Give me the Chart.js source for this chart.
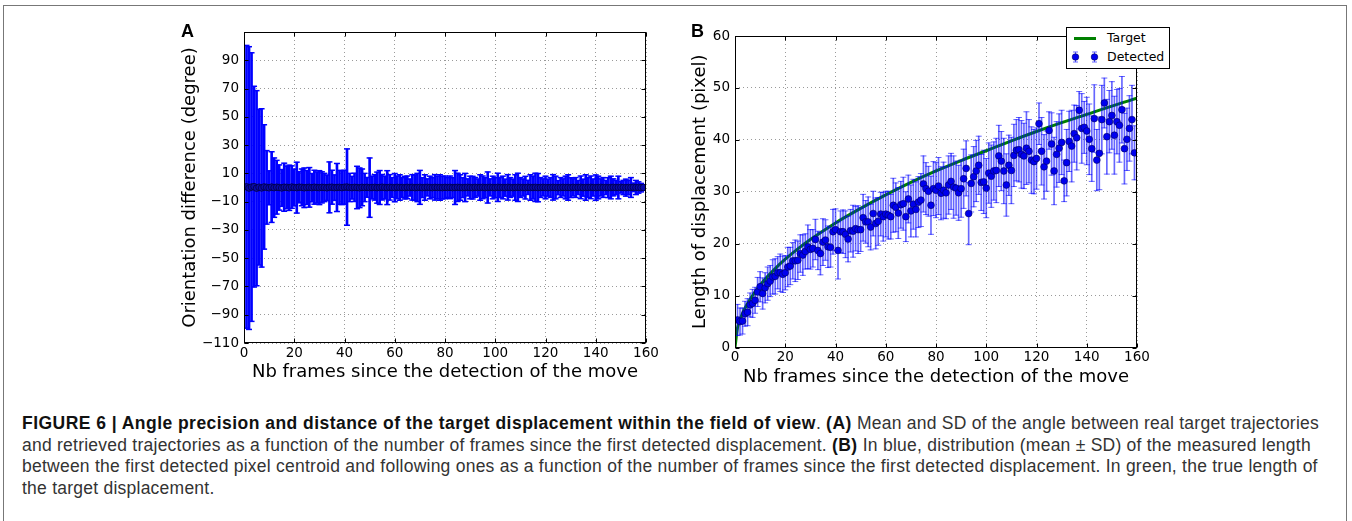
<!DOCTYPE html>
<html>
<head>
<meta charset="utf-8">
<script src="https://cdn.jsdelivr.net/npm/chart.js@4.4.1/dist/chart.umd.min.js"></script>
<style>
  html, body { margin: 0; padding: 0; background: #fff; }
  body { width: 1352px; height: 521px; position: relative; overflow: hidden; }
  #outer { position: absolute; left: 3px; top: 5px; width: 1344px; height: 540px; border: 1px solid #777; box-sizing: border-box; }
  canvas { position: absolute; top: 0; }
  #cA { left: 0; }
  #cB { left: 680px; }
  .plabel { position: absolute; font-family: "Liberation Sans", Arial, sans-serif; font-weight: bold; font-size: 18px; line-height: 18px; color: #000; }
  #legend { position: absolute; left: 1066px; top: 27px; width: 104px; height: 42px; border: 1px solid #000; background: #fff; box-sizing: border-box; font-family: "DejaVu Sans", sans-serif; font-size: 12.5px; color: #000; }
  #legend .row { position: absolute; left: 0; height: 16px; line-height: 16px; }
  #legend .txt { position: absolute; left: 40px; white-space: nowrap; }
  #legend svg { position: absolute; left: 0; top: 0; }
  #caption { position: absolute; left: 22px; top: 413px; font-family: "Liberation Sans", Arial, sans-serif; font-size: 17.5px; letter-spacing: 0.24px; line-height: 21.6px; color: #333; white-space: nowrap; }
  #caption b { color: #111; letter-spacing: 0.46px; }
</style>
</head>
<body>
<div id="outer"></div>
<canvas id="cA" width="680" height="400"></canvas>
<canvas id="cB" width="672" height="400"></canvas>
<div class="plabel" style="left:181px; top:22px;">A</div>
<div class="plabel" style="left:691px; top:22px;">B</div>
<div id="legend">
  <svg width="104" height="42">
    <line x1="7" y1="10.5" x2="29" y2="10.5" stroke="#008000" stroke-width="3"/>
    <line x1="8.5" y1="24" x2="8.5" y2="34" stroke="rgba(0,0,255,0.6)" stroke-width="1"/>
    <line x1="6" y1="24" x2="11" y2="24" stroke="rgba(0,0,255,0.6)" stroke-width="1"/>
    <line x1="6" y1="34" x2="11" y2="34" stroke="rgba(0,0,255,0.6)" stroke-width="1"/>
    <circle cx="8.5" cy="29" r="3.3" fill="#0000ee" stroke="#000060" stroke-width="0.6"/>
    <line x1="27.5" y1="24" x2="27.5" y2="34" stroke="rgba(0,0,255,0.6)" stroke-width="1"/>
    <line x1="25" y1="24" x2="30" y2="24" stroke="rgba(0,0,255,0.6)" stroke-width="1"/>
    <line x1="25" y1="34" x2="30" y2="34" stroke="rgba(0,0,255,0.6)" stroke-width="1"/>
    <circle cx="27.5" cy="29" r="3.3" fill="#0000ee" stroke="#000060" stroke-width="0.6"/>
  </svg>
  <div class="row txt" style="top:2px;">Target</div>
  <div class="row txt" style="top:21px;">Detected</div>
</div>
<div id="caption">
<b>FIGURE 6 | Angle precision and distance of the target displacement within the field of view</b>. <b>(A)</b> Mean and SD of the angle between real target trajectories<br>
and retrieved trajectories as a function of the number of frames since the first detected displacement. <b>(B)</b> In blue, distribution (mean ± SD) of the measured length<br>
between the first detected pixel centroid and following ones as a function of the number of frames since the first detected displacement. In green, the true length of<br>
the target displacement.
</div>
<script>
// ---------------- DATA ----------------
// Panel A: frames since detection, mean angle difference and SD (degrees)
const framesA = [];
for (let f = 1; f <= 159; f++) framesA.push(f);
const meanA = [
  0.5, -0.4, 0.3, 0.6, -0.5, 0.2, -0.3, 0.4, 0.1, -0.2,
  0.3, -0.1, 0.2, 0.0, -0.3, 0.2, 0.1, -0.2, 0.3, 0.0,
  -0.1, 0.2, 0.1, -0.2, 0.0, 0.1, -0.1, 0.2, 0.0, -0.1,
  0.1, 0.0, -0.2, 0.1, 0.2, -0.1, 0.0, 0.1, -0.1, 0.2,
  0.3, 0.0, -0.1, 0.1, 0.0, -0.2, 0.1, 0.0, 0.1, -0.1,
  0.0, 0.1, -0.1, 0.0, 0.2, 0.0, -0.1, 0.1, 0.0, -0.1,
  0.1, 0.0, 0.0, -0.1, 0.1, 0.0, 0.1, -0.1, 0.0, 0.1,
  -0.1, 0.0, 0.1, 0.0, -0.1, 0.1, 0.0, 0.0, -0.1, 0.1,
  0.0, 0.1, -0.1, 0.0, 0.1, 0.0, -0.1, 0.0, 0.1, 0.0,
  -0.1, 0.1, 0.0, 0.0, 0.1, -0.1, 0.0, 0.1, 0.0, -0.1,
  0.1, 0.0, 0.0, -0.1, 0.1, 0.0, -0.1, 0.0, 0.1, 0.0,
  0.0, -0.1, 0.1, 0.0, 0.0, 0.1, -0.1, 0.0, 0.1, 0.0,
  -0.1, 0.0, 0.1, 0.0, -0.1, 0.0, 0.1, 0.0, 0.0, -0.1,
  0.1, 0.0, 0.0, 0.1, -0.1, 0.0, 0.0, 0.1, 0.0, -0.1,
  0.0, 0.1, 0.0, 0.0, -0.1, 0.0, 0.1, 0.0, 0.0, 0.1,
  0.0, -0.1, 0.0, 0.0, 0.1, 0.0, 0.0, -0.1, 0.0
];
const sdA = [
  100, 100, 95, 71, 69, 55, 56, 44, 26, 12,
  25, 21, 19, 16, 13, 17, 15, 16, 15, 13,
  18, 11, 13, 14, 12, 14, 10, 12, 11, 12,
  11, 10, 9, 18, 12, 9, 17, 12, 12, 12,
  27, 10, 8, 10, 15, 14, 13, 10, 7, 21,
  8, 9, 11, 12, 9, 8, 12, 9, 7, 10,
  8, 9, 7, 8, 8, 6, 9, 9, 10, 12,
  7, 9, 6, 8, 7, 9, 8, 9, 8, 8,
  7, 8, 7, 12, 10, 9, 7, 10, 6, 8,
  8, 7, 6, 9, 8, 7, 11, 6, 8, 7,
  10, 7, 8, 6, 9, 7, 6, 9, 10, 7,
  6, 8, 5, 9, 8, 10, 10, 7, 6, 8,
  6, 7, 9, 8, 5, 7, 6, 8, 9, 7,
  6, 7, 5, 8, 6, 9, 7, 8, 6, 9,
  8, 6, 7, 5, 7, 8, 6, 5, 8, 4,
  5, 6, 5, 7, 3, 5, 4, 3, 2
];
const xTicks = [0, 20, 40, 60, 80, 100, 120, 140, 160];
const yTicksA = [-110, -90, -70, -50, -30, -10, 10, 30, 50, 70, 90];
const yTicksB = [0, 10, 20, 30, 40, 50, 60];

// Panel B: detected displacement (mean, SD) in pixels
const framesB = [];
for (let f = 1; f <= 159; f++) framesB.push(f);
const meanB = [
  5.3, 5.0, 5.1, 6.5, 6.8, 8.2, 8.5, 9.1, 10.7, 11.7,
  10.4, 11.5, 12.3, 12.8, 13.6, 13.7, 14.4, 14.4, 14.1, 14.4,
  15.5, 15.7, 16.7, 16.7, 16.8, 18.1, 17.8, 18.5, 19.4, 18.9,
  19.1, 20.8, 18.7, 18.1, 20.3, 20.7, 19.4, 19.3, 22.3, 22.7,
  18.7, 22.3, 22.3, 21.8, 20.9, 22.5, 22.4, 22.9, 22.7, 22.7,
  25.0, 24.2, 24.2, 23.2, 25.8, 23.9, 24.3, 25.7, 25.2, 25.7,
  25.5, 25.2, 27.4, 27.0, 25.9, 27.5, 27.7, 25.2, 28.6, 26.3,
  27.6, 26.6, 28.0, 28.4, 31.5, 30.6, 30.1, 27.4, 30.6, 30.3,
  31.1, 29.7, 30.3, 29.8, 31.3, 32.0, 30.9, 30.7, 29.8, 30.6,
  32.5, 34.5, 25.8, 31.6, 32.9, 34.0, 35.1, 31.8, 31.9, 30.7,
  33.6, 33.0, 34.0, 34.1, 36.9, 35.9, 34.0, 31.3, 35.1, 34.1,
  37.0, 38.0, 38.1, 37.2, 36.9, 38.4, 37.8, 36.1, 35.8, 36.4,
  43.1, 37.8, 34.8, 35.9, 41.8, 39.2, 34.0, 37.2, 38.4, 39.5,
  32.1, 35.6, 39.7, 38.8, 41.2, 40.4, 45.7, 42.2, 42.4, 41.7,
  40.1, 38.3, 44.1, 36.1, 37.4, 43.9, 47.1, 40.6, 43.5, 44.7,
  40.9, 43.5, 42.8, 45.8, 38.3, 40.1, 42.2, 43.9, 37.5
];
const sdB = [
  3.0, 2.6, 2.5, 2.4, 2.6, 2.3, 2.7, 2.5, 2.8, 2.9,
  3.0, 2.9, 3.2, 3.0, 3.3, 3.4, 3.1, 3.6, 3.5, 3.3,
  3.8, 3.6, 3.5, 4.0, 3.7, 3.6, 3.9, 3.4, 4.2, 3.8,
  3.6, 3.9, 3.7, 4.1, 4.5, 3.9, 4.0, 3.8, 4.3, 4.0,
  5.5, 4.0, 4.2, 4.5, 4.4, 4.1, 5.0, 4.3, 4.6, 4.2,
  4.5, 4.1, 4.8, 4.4, 4.3, 4.9, 4.6, 4.2, 4.7, 4.4,
  4.6, 4.3, 5.2, 4.7, 4.9, 4.5, 5.1, 4.8, 4.6, 5.0,
  4.8, 5.3, 4.9, 5.1, 5.4, 5.0, 4.8, 5.6, 5.2, 5.3,
  5.5, 5.1, 5.4, 5.0, 5.6, 5.4, 6.0, 5.2, 5.3, 5.5,
  5.7, 5.3, 6.0, 5.5, 5.8, 5.9, 5.6, 5.4, 6.1, 5.7,
  5.8, 6.0, 5.6, 6.2, 5.9, 5.7, 6.3, 6.0, 5.8, 6.4,
  6.0, 5.9, 6.2, 6.5, 6.3, 7.0, 6.1, 6.4, 6.2, 5.9,
  4.0, 6.5, 6.2, 5.8, 3.6, 6.0, 6.5, 6.3, 6.6, 6.2,
  4.0, 6.4, 5.8, 6.9, 5.5, 6.2, 3.6, 6.7, 5.0, 6.5,
  6.8, 6.3, 6.5, 5.9, 7.0, 6.6, 4.8, 7.2, 6.0, 6.5,
  7.5, 6.2, 7.1, 6.4, 6.8, 6.0, 6.3, 6.6, 5.2
];
// Panel B: true target displacement (green curve), read at selected frames
const targetX = [0, 1, 2, 3, 4, 6, 8, 10, 13, 16, 20, 25, 30, 40, 50, 60, 70, 80, 90, 100, 110, 120, 130, 140, 150, 160];
const targetY = [0, 3.8, 5.4, 6.6, 7.6, 9.3, 10.7, 12.0, 13.7, 15.2, 17.0, 19.0, 20.8, 24.0, 26.8, 29.4, 31.8, 34.0, 36.0, 37.9, 39.8, 41.6, 43.3, 44.9, 46.5, 48.0];

// ---------------- HELPERS ----------------
Chart.defaults.font.family = '"DejaVu Sans", sans-serif';
Chart.defaults.color = '#000';
const fmt = v => String(v).replace('-', '\u2212');

const axesFrame = {
  id: 'axesFrame',
  afterDraw(chart) {
    const {ctx, chartArea: a, scales} = chart;
    ctx.save();
    ctx.strokeStyle = '#000';
    ctx.lineWidth = 1;
    const L = Math.round(a.left) + 0.5, R = Math.round(a.right) - 0.5;
    const T = Math.round(a.top) + 0.5, B = Math.round(a.bottom) - 0.5;
    ctx.strokeRect(L, T, R - L, B - T);
    ctx.beginPath();
    scales.x.ticks.forEach(t => {
      const p = Math.round(scales.x.getPixelForValue(t.value)) + 0.5;
      ctx.moveTo(p, B); ctx.lineTo(p, B - 4);
      ctx.moveTo(p, T); ctx.lineTo(p, T + 4);
    });
    scales.y.ticks.forEach(t => {
      const p = Math.round(scales.y.getPixelForValue(t.value)) + 0.5;
      ctx.moveTo(L, p); ctx.lineTo(L + 4, p);
      ctx.moveTo(R, p); ctx.lineTo(R - 4, p);
    });
    ctx.stroke();
    ctx.restore();
  }
};

function axisX(title, h) {
  return {
    type: 'linear', min: 0, max: 160, offset: false,
    afterBuildTicks: s => { s.ticks = xTicks.map(v => ({value: v})); },
    ticks: { font: {size: 13.5}, padding: 2, maxRotation: 0, autoSkip: false, callback: v => fmt(v) },
    grid: { color: '#9a9a9a', lineWidth: 1, drawTicks: false, offset: false },
    border: { display: false, dash: [1, 3] },
    title: { display: true, text: title, font: {size: 18, lineHeight: 1}, padding: 0 },
    afterFit: s => { s.height = h; }
  };
}
function axisY(title, w, min, max, tickList) {
  return {
    type: 'linear', min: min, max: max,
    afterBuildTicks: s => { s.ticks = tickList.map(v => ({value: v})); },
    ticks: { font: {size: 13.5}, padding: 5, autoSkip: false, callback: v => fmt(v) },
    grid: { color: '#9a9a9a', lineWidth: 1, drawTicks: false },
    border: { display: false, dash: [1, 3] },
    title: { display: true, text: title, font: {size: 18, lineHeight: 1}, padding: 0 },
    afterFit: s => { s.width = w; }
  };
}

// ---------------- PANEL A ----------------
const barsA = framesA.map((f, i) => ({x: f, y: [meanA[i] - sdA[i], meanA[i] + sdA[i]]}));
const capsA = [];
framesA.forEach((f, i) => { capsA.push({x: f, y: meanA[i] + sdA[i]}); capsA.push({x: f, y: meanA[i] - sdA[i]}); });
const ptsA = framesA.map((f, i) => ({x: f, y: meanA[i]}));

new Chart(document.getElementById('cA'), {
  type: 'scatter',
  data: {
    datasets: [
      { type: 'bar', data: barsA, backgroundColor: '#0000ff', borderWidth: 0, barThickness: 2, order: 3 },
      { type: 'scatter', data: capsA, pointStyle: 'line', pointRadius: 3, borderColor: '#0000ff', borderWidth: 1.5, order: 2 },
      { type: 'scatter', data: ptsA, pointStyle: 'circle', pointRadius: 3.3, backgroundColor: '#0a0aa8', borderColor: '#000044', borderWidth: 0.8, order: 1 }
    ]
  },
  options: {
    responsive: false, animation: false, devicePixelRatio: 1,
    layout: { padding: { left: 181, right: 34, top: 32, bottom: 19 } },
    plugins: { legend: { display: false }, tooltip: { enabled: false } },
    events: [],
    scales: {
      x: axisX('Nb frames since the detection of the move', 38),
      y: axisY('Orientation difference (degree)', 63, -110, 110, yTicksA)
    }
  },
  plugins: [axesFrame]
});

// ---------------- PANEL B ----------------
const barsB = framesB.map((f, i) => ({x: f, y: [meanB[i] - sdB[i], meanB[i] + sdB[i]]}));
const capsB = [];
framesB.forEach((f, i) => { capsB.push({x: f, y: meanB[i] + sdB[i]}); capsB.push({x: f, y: meanB[i] - sdB[i]}); });
const ptsB = framesB.map((f, i) => ({x: f, y: meanB[i]}));
const lineB = targetX.map((x, i) => ({x: x, y: targetY[i]}));

new Chart(document.getElementById('cB'), {
  type: 'scatter',
  data: {
    datasets: [
      { type: 'line', data: lineB, borderColor: '#008000', borderWidth: 3, pointRadius: 0, fill: false, cubicInterpolationMode: 'monotone', order: 4 },
      { type: 'bar', data: barsB, backgroundColor: 'rgba(0,0,255,0.6)', borderWidth: 0, barThickness: 1, order: 3 },
      { type: 'scatter', data: capsB, pointStyle: 'line', pointRadius: 3, borderColor: 'rgba(0,0,255,0.6)', borderWidth: 1, order: 2 },
      { type: 'scatter', data: ptsB, pointStyle: 'circle', pointRadius: 3.4, backgroundColor: '#0000ee', borderColor: '#000060', borderWidth: 0.6, order: 1 }
    ]
  },
  options: {
    responsive: false, animation: false, devicePixelRatio: 1,
    layout: { padding: { left: 11, right: 215, top: 36, bottom: 14 } },
    plugins: { legend: { display: false }, tooltip: { enabled: false } },
    events: [],
    scales: {
      x: axisX('Nb frames since the detection of the move', 38.5),
      y: axisY('Length of displacement (pixel)', 44, 0, 60, yTicksB)
    }
  },
  plugins: [axesFrame]
});
</script>
</body>
</html>
